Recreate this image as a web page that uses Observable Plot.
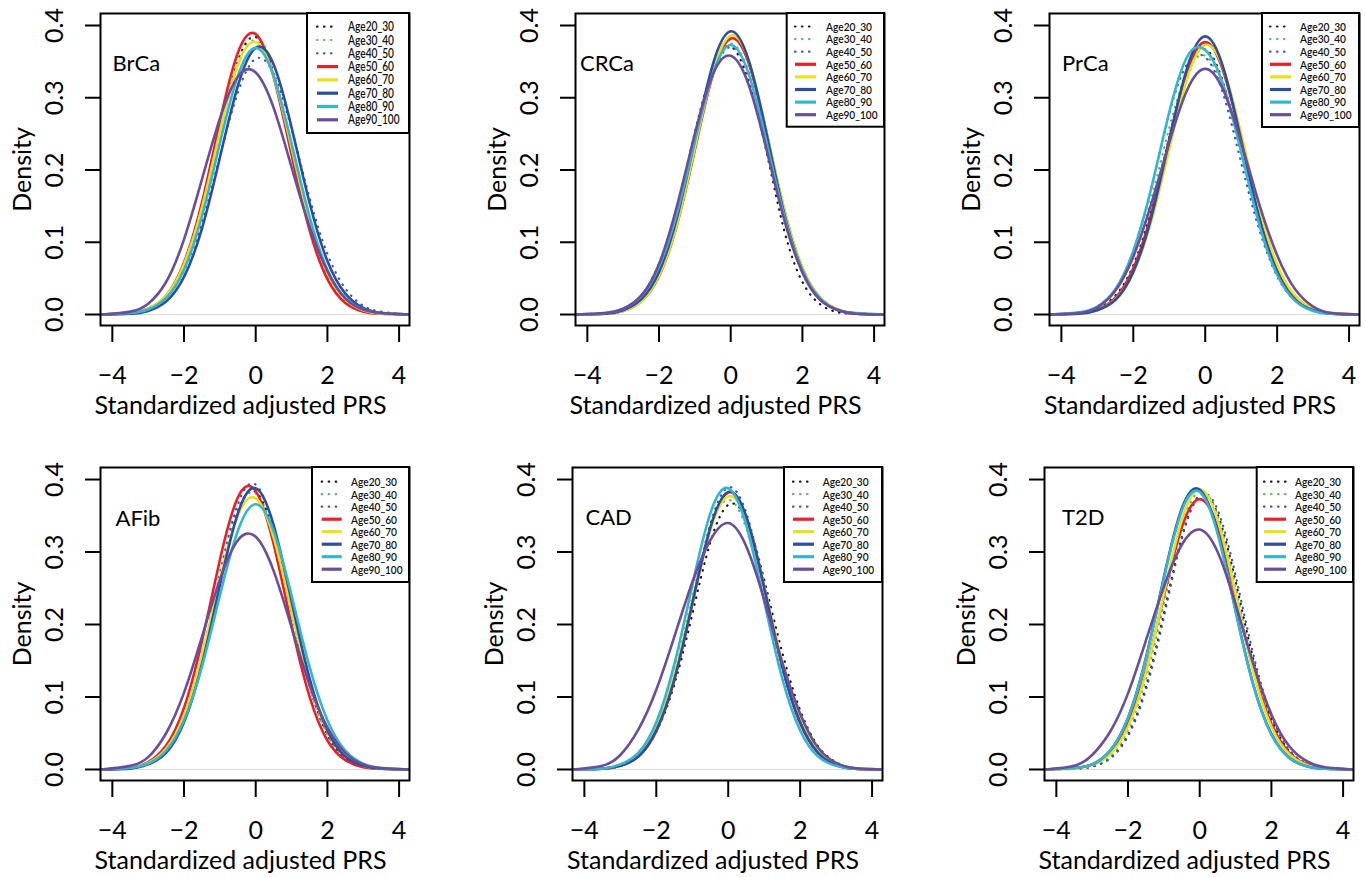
<!DOCTYPE html>
<html>
<head>
<meta charset="utf-8">
<script src="https://cdn.jsdelivr.net/npm/d3@7"></script>
<script src="https://cdn.jsdelivr.net/npm/@observablehq/plot@0.6"></script>
<style>
  html, body { margin: 0; padding: 0; background: #fff; }
  #root { position: relative; width: 1366px; height: 877px; overflow: hidden; background: #fff; }
</style>
</head>
<body>
<div id="root"></div>
<script>
// ---------------- DATA ----------------
const xGrid = [-4.3, -3.5, -3, -2.5, -2, -1.5, -1, -0.5, 0, 0.5, 1, 1.5, 2, 2.5, 3, 3.5, 4.25];
const ageGroups = ["Age20_30", "Age30_40", "Age40_50", "Age50_60", "Age60_70", "Age70_80", "Age80_90", "Age90_100"];
const panelNames = ["BrCa", "CRCa", "PrCa", "AFib", "CAD", "T2D"];
const xTicks = [-4, -2, 0, 2, 4];
const yTicks = [0, 0.1, 0.2, 0.3, 0.4];
const xTitle = "Standardized adjusted PRS";
const yTitle = "Density";

// density values at xGrid, one row per age group (in ageGroups order)
const BrCa = [
  [0,.002,.007,.023,.065,.144,.252,.350,.384,.334,.229,.125,.054,.018,.005,.001,0],
  [0,.001,.006,.023,.064,.142,.249,.345,.379,.329,.226,.123,.053,.018,.005,.001,0],
  [0,.002,.008,.024,.061,.128,.219,.307,.354,.333,.257,.162,.084,.036,.012,.004,0],
  [0,.002,.008,.026,.072,.155,.267,.362,.388,.329,.221,.117,.049,.016,.004,.001,0],
  [0,.002,.008,.026,.070,.148,.253,.345,.377,.330,.231,.130,.058,.021,.006,.001,0],
  [0,.001,.005,.018,.052,.119,.217,.316,.369,.346,.259,.155,.074,.029,.009,.002,0],
  [0,.002,.007,.023,.062,.136,.237,.330,.369,.330,.237,.136,.062,.023,.007,.002,0],
  [0,.004,.015,.045,.104,.187,.271,.329,.335,.286,.204,.122,.060,.022,.007,.002,0]
];
const CRCa = [
  [0,.002,.008,.026,.070,.148,.252,.340,.371,.322,.225,.115,.045,.014,.003,.001,0],
  [0,.002,.007,.023,.063,.138,.240,.336,.375,.336,.240,.138,.063,.023,.007,.002,0],
  [0,.002,.007,.023,.062,.136,.237,.331,.370,.331,.237,.136,.062,.023,.007,.002,0],
  [0,.001,.005,.018,.053,.124,.228,.332,.382,.348,.251,.143,.064,.023,.006,.001,0],
  [0,.001,.005,.018,.054,.125,.231,.335,.386,.352,.253,.144,.065,.023,.007,.001,0],
  [0,.001,.006,.021,.059,.134,.242,.346,.392,.352,.250,.138,.061,.021,.006,.001,0],
  [0,.002,.008,.025,.066,.140,.240,.333,.373,.333,.238,.135,.061,.022,.006,.002,0],
  [0,.002,.008,.026,.070,.150,.250,.332,.358,.318,.228,.130,.058,.020,.006,.001,0]
];
const PrCa = [
  [0,.002,.008,.026,.068,.145,.246,.336,.367,.321,.225,.127,.057,.020,.006,.001,0],
  [0,.003,.010,.032,.080,.160,.258,.336,.358,.312,.222,.128,.059,.022,.007,.002,0],
  [0,.003,.011,.034,.088,.175,.278,.347,.356,.305,.210,.118,.053,.019,.005,.001,0],
  [0,.002,.007,.023,.064,.139,.242,.337,.377,.337,.242,.139,.064,.023,.007,.002,0],
  [0,.001,.006,.021,.058,.129,.229,.327,.373,.341,.250,.147,.069,.026,.008,.002,0],
  [0,.001,.006,.020,.059,.134,.241,.342,.385,.342,.241,.134,.059,.020,.006,.001,0],
  [0,.003,.011,.035,.088,.175,.280,.357,.366,.318,.225,.125,.055,.019,.005,.001,0],
  [0,.002,.010,.033,.080,.153,.238,.311,.340,.311,.238,.153,.082,.035,.011,.002,0]
];
const AFib = [
  [0,.002,.007,.026,.071,.153,.263,.357,.383,.325,.218,.116,.048,.016,.004,.001,0],
  [0,.002,.007,.025,.070,.152,.262,.355,.381,.323,.217,.115,.048,.016,.004,.001,0],
  [0,.002,.008,.026,.072,.157,.270,.366,.393,.333,.224,.119,.050,.016,.004,.001,0],
  [0,.002,.010,.033,.085,.177,.289,.375,.384,.311,.199,.101,.040,.013,.003,.001,0],
  [0,.002,.009,.029,.075,.157,.262,.350,.374,.320,.219,.120,.053,.019,.005,.001,0],
  [0,.001,.007,.023,.065,.145,.254,.353,.388,.337,.232,.126,.054,.018,.005,.001,0],
  [0,.002,.008,.026,.068,.142,.240,.329,.366,.329,.240,.142,.068,.026,.008,.002,0],
  [0,.005,.017,.050,.106,.183,.262,.316,.321,.274,.196,.117,.058,.023,.007,.002,0]
];
const CAD = [
  [0,.001,.005,.018,.052,.117,.214,.313,.365,.345,.262,.162,.082,.032,.010,.002,0],
  [0,.002,.007,.023,.063,.137,.238,.333,.372,.333,.238,.137,.063,.023,.007,.002,0],
  [0,.001,.005,.018,.054,.126,.232,.338,.389,.354,.255,.145,.066,.023,.007,.001,0],
  [0,.001,.005,.018,.053,.124,.228,.332,.382,.348,.251,.143,.064,.023,.006,.001,0],
  [0,.001,.006,.021,.058,.130,.231,.330,.377,.345,.253,.148,.070,.026,.008,.002,0],
  [0,.001,.005,.018,.054,.124,.229,.333,.383,.349,.251,.143,.065,.023,.006,.001,0],
  [0,.001,.007,.023,.065,.145,.254,.353,.388,.337,.232,.126,.054,.018,.005,.001,0],
  [0,.005,.020,.055,.110,.183,.258,.316,.340,.308,.234,.148,.077,.030,.009,.002,0]
];
const T2D = [
  [0,.001,.004,.016,.048,.114,.215,.321,.378,.352,.260,.151,.070,.025,.007,.002,0],
  [0,.001,.005,.018,.054,.125,.229,.334,.384,.350,.252,.143,.065,.023,.007,.001,0],
  [0,.001,.004,.015,.046,.110,.210,.318,.378,.358,.268,.158,.074,.027,.008,.002,0],
  [0,.002,.007,.023,.063,.137,.239,.334,.373,.334,.239,.137,.063,.023,.007,.002,0],
  [0,.001,.006,.021,.059,.134,.242,.344,.387,.344,.242,.134,.059,.021,.006,.001,0],
  [0,.002,.007,.026,.071,.154,.265,.360,.386,.328,.220,.116,.049,.016,.004,.001,0],
  [0,.002,.007,.026,.071,.153,.263,.357,.383,.325,.218,.116,.048,.016,.004,.001,0],
  [0,.005,.020,.052,.105,.178,.252,.310,.331,.300,.228,.145,.076,.032,.011,.003,0]
];
const panelData = [BrCa, CRCa, PrCa, AFib, CAD, T2D];

// ---------------- STYLE / LAYOUT ----------------
const FONT = "Lato, 'Open Sans', sans-serif";
const lineColors = ["#1a1a1a", "#5dbb5d", "#3a55b5", "#ec1f26", "#e9e01e", "#2b4ea3", "#35b6d0", "#6b4e9b"];
const dotted = [true, true, true, false, false, false, false, false];
// plot-box edges on the page: left, top, right, bottom
const boxes = [
  [100, 13, 409, 325], [575, 13, 884, 325], [1049, 13, 1359, 325],
  [100, 467, 409, 780], [572, 467, 882, 780], [1044, 467, 1353, 780]
];
const nameOffsets = [[12, 50.5], [4.5, 50.5], [12.5, 50.5], [15, 51], [13, 50], [17.5, 50]];
const legendGeo = [
  {box: [307, 13, 409, 133], sx: [317, 338], tx: 348, y0: 26.7, dy: 13.3, fs: 12.5},
  {box: [786.7, 13, 884, 126.7], sx: [795, 816], tx: 826, y0: 26.5, dy: 12.6, fs: 12},
  {box: [1262, 13, 1359, 127], sx: [1270, 1291], tx: 1300, y0: 26.5, dy: 12.6, fs: 12},
  {box: [312, 467, 409, 582], sx: [321.7, 341.7], tx: 351, y0: 481.7, dy: 12.5, fs: 12},
  {box: [784, 467, 882, 582], sx: [793, 814], tx: 822.7, y0: 481.7, dy: 12.5, fs: 12},
  {box: [1256.7, 467, 1353, 582], sx: [1264, 1286], tx: 1295, y0: 481.7, dy: 12.5, fs: 12}
];

const root = document.getElementById("root");

function drawPanel(i) {
  const [L, T, R, B] = boxes[i];
  const mL = 100, mT = 13, mR = 8, mB = 105;
  const rows = [];
  panelData[i].forEach((vals, gi) =>
    vals.forEach((v, xi) => rows.push({x: xGrid[xi], y: v, g: ageGroups[gi]})));
  const svg = Plot.plot({
    width: mL + (R - L) + mR,
    height: mT + (B - T) + mB,
    marginLeft: mL, marginTop: mT, marginRight: mR, marginBottom: mB,
    x: {domain: [-4.33, 4.29]},
    y: {domain: [-0.0152, 0.4166]},
    style: {fontFamily: FONT, background: "transparent", color: "black", overflow: "visible"},
    marks: [
      Plot.ruleY([0], {stroke: "#d9d9d9", strokeWidth: 1}),
      ...ageGroups.map((g, gi) => Plot.line(rows.filter(r => r.g === g), {
        x: "x", y: "y", curve: "natural",
        stroke: lineColors[gi],
        strokeWidth: dotted[gi] ? 2.2 : 2.6,
        strokeDasharray: dotted[gi] ? "0.5,6.5" : null,
        strokeLinecap: "round"
      })),
      Plot.frame({stroke: "black", strokeWidth: 2}),
      Plot.axisX({ticks: xTicks, tickSize: 17, tickPadding: 24, tickFormat: d3.format("d"),
        fontSize: 25, strokeWidth: 2, label: null}),
      Plot.axisY({ticks: yTicks, tickSize: 15, tickFormat: () => "", strokeWidth: 2, label: null}),
      Plot.text(yTicks, {y: d => d, text: d3.format(".1f"), frameAnchor: "left", dx: -46,
        rotate: -90, fontSize: 25, textAnchor: "middle", lineAnchor: "middle"}),
      Plot.text([panelNames[i]], {text: d => d, frameAnchor: "top-left", dx: nameOffsets[i][0],
        dy: nameOffsets[i][1], fontSize: 22, textAnchor: "start", lineAnchor: "middle"}),
      Plot.text([xTitle], {text: d => d, frameAnchor: "bottom", dx: -14.5, dy: 80,
        fontSize: 25, textAnchor: "middle", lineAnchor: "middle"}),
      Plot.text([yTitle], {text: d => d, frameAnchor: "left", rotate: -90, dx: -78,
        fontSize: 25, textAnchor: "middle", lineAnchor: "middle"})
    ]
  });
  svg.style.position = "absolute";
  svg.style.left = (L - mL) + "px";
  svg.style.top = (T - mT) + "px";
  svg.style.maxWidth = "none";
  root.appendChild(svg);
}
panelNames.forEach((_, i) => drawPanel(i));

// legends (overlay)
const overlay = d3.create("svg")
  .attr("width", 1366).attr("height", 877)
  .style("position", "absolute").style("left", 0).style("top", 0)
  .style("font-family", FONT);
legendGeo.forEach((lg) => {
  const [x0, y0, x1, y1] = lg.box;
  overlay.append("rect").attr("x", x0).attr("y", y0).attr("width", x1 - x0).attr("height", y1 - y0)
    .attr("fill", "white").attr("stroke", "black").attr("stroke-width", 2);
  ageGroups.forEach((g, gi) => {
    const yy = lg.y0 + gi * lg.dy;
    overlay.append("line").attr("x1", lg.sx[0]).attr("x2", lg.sx[1]).attr("y1", yy).attr("y2", yy)
      .attr("stroke", lineColors[gi])
      .attr("stroke-width", dotted[gi] ? 2.2 : 3.2)
      .attr("stroke-linecap", dotted[gi] ? "round" : "butt")
      .attr("stroke-dasharray", dotted[gi] ? "0.5,6.5" : null);
    overlay.append("text").attr("x", lg.tx).attr("y", yy).attr("dy", "0.36em")
      .attr("font-size", lg.fs).attr("font-weight", 600)
      .attr("textLength", g.length === 9 ? 51.5 : 46).attr("lengthAdjust", "spacingAndGlyphs")
      .attr("fill", "#111").text(g);
  });
});
root.appendChild(overlay.node());
</script>
</body>
</html>
